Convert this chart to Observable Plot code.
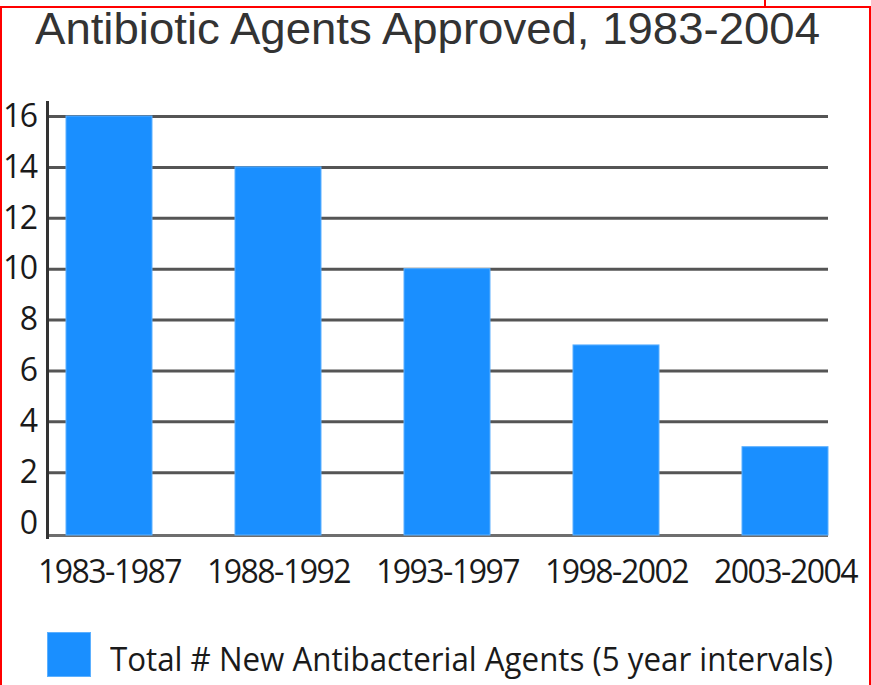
<!DOCTYPE html>
<html>
<head>
<meta charset="utf-8">
<script src="https://cdn.jsdelivr.net/npm/d3@7"></script>
<script src="https://cdn.jsdelivr.net/npm/@observablehq/plot@0.6"></script>
<style>
  html, body { margin: 0; padding: 0; background: #fff; }
  #page { position: relative; width: 871px; height: 685px; overflow: hidden; background: #fff; }
  .redline { position: absolute; background: #ff0000; }
  #title { position: absolute; left: 35px; top: 7px; font-family: "Liberation Sans", Arial, sans-serif; font-size: 44px; line-height: 44px; color: #333; white-space: nowrap; transform-origin: left top; }
  #chart { position: absolute; left: 0; top: 0; }
  #chart svg text { letter-spacing: -1.5px; }
  #legend-swatch { position: absolute; left: 47px; top: 632px; width: 44px; height: 45px; background: #1a8fff; box-shadow: inset 0 0 0 1px #5cb0ff; }
  #legend-text { position: absolute; left: 110px; top: 639px; font-family: "Open Sans", sans-serif; font-size: 33px; line-height: 40px; color: #1a1a1a; white-space: nowrap; transform-origin: left top; }
</style>
</head>
<body>
<div id="page">
  <div class="redline" style="left:0;top:6px;width:871px;height:2px;"></div>
  <div class="redline" style="left:0;top:6px;width:2px;height:679px;"></div>
  <div class="redline" style="left:869px;top:6px;width:2px;height:679px;"></div>
  <div class="redline" style="left:764px;top:0;width:2px;height:7px;"></div>
  <div id="title"></div>
  <div id="chart"></div>
  <div id="legend-swatch"></div>
  <div id="legend-text"></div>
</div>
<script>
const titleText = "Antibiotic Agents Approved, 1983-2004";
const legendLabel = "Total # New Antibacterial Agents (5 year intervals)";
const categories = ["1983-1987", "1988-1992", "1993-1997", "1998-2002", "2003-2004"];
const values = [16, 14, 10, 7, 3];
const yTicks = [0, 2, 4, 6, 8, 10, 12, 14, 16];
const gridTicks = yTicks.filter(d => d > 0);
const barColor = "#1a8fff";

const data = categories.map((c, i) => ({category: c, value: values[i]}));

const chart = Plot.plot({
  width: 871,
  height: 610,
  marginTop: 116,
  marginBottom: 87,
  marginLeft: 47,
  marginRight: 43,
  style: {fontFamily: "'Open Sans', sans-serif", color: "#1a1a1a", background: "transparent"},
  x: {type: "band", domain: categories, range: [64, 830], paddingInner: 0.494, paddingOuter: 0, align: 0.5, label: null},
  y: {domain: [0, 16], label: null},
  marks: [
    Plot.ruleY(gridTicks, {stroke: "#555", strokeWidth: 3}),
    Plot.ruleY([0], {stroke: "#6e6e6e", strokeWidth: 3, dy: 12}),
    Plot.barY(data, {x: "category", y: "value", fill: barColor, stroke: "#5cb0ff", strokeWidth: 1, insetBottom: -12}),
    Plot.frame({anchor: "left", stroke: "#333", strokeWidth: 3, insetTop: -14, insetBottom: -14}),
    Plot.axisY({ticks: yTicks, tickSize: 0, tickPadding: 11, fontSize: 32, label: null}),
    Plot.axisX({tickSize: 0, tickPadding: 37, fontSize: 32, label: null})
  ]
});
document.getElementById("chart").appendChild(chart);

const t = document.getElementById("title");
t.textContent = titleText;
const tw = t.getBoundingClientRect().width;
t.style.transform = `scaleX(${785 / tw})`;

const lg = document.getElementById("legend-text");
lg.textContent = legendLabel;
const lw = lg.getBoundingClientRect().width;
lg.style.transform = `scaleX(${723 / lw})`;
</script>
</body>
</html>
